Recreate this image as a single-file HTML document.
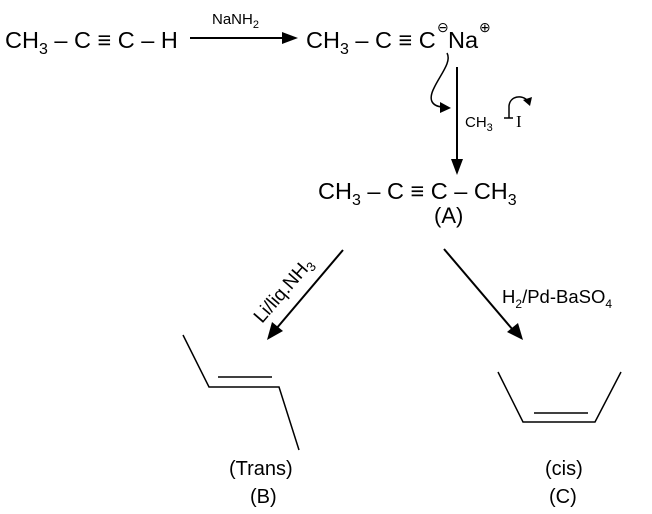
<!DOCTYPE html>
<html><head><meta charset="utf-8"><style>
html,body{margin:0;padding:0;background:#fff;}
svg{display:block;}
text{font-family:"Liberation Sans",Arial,sans-serif;fill:#000;}
</style></head><body>
<svg width="652" height="514" viewBox="0 0 652 514" xmlns="http://www.w3.org/2000/svg">
<!-- row 1 -->
<text x="5" y="48" font-size="23.5">CH<tspan font-size="16" dy="6">3</tspan><tspan dy="-6"> – C ≡ C – H</tspan></text>
<line x1="190" y1="38" x2="284" y2="38" stroke="#000" stroke-width="2"/>
<path d="M282,32 L298,38 L282,44 z"/>
<text x="212" y="24" font-size="15">NaNH<tspan font-size="11" dy="4">2</tspan></text>
<text x="306" y="48" font-size="23.5">CH<tspan font-size="16" dy="6">3</tspan><tspan dy="-6"> – C ≡ C</tspan></text>
<text x="437" y="32" font-size="14">⊖</text>
<text x="448" y="48" font-size="23.5">Na</text>
<text x="479" y="32" font-size="14">⊕</text>
<!-- curved arrow -->
<path d="M447,53 C452,62 440,75 434,88 C428,100 432,106 442,107" fill="none" stroke="#000" stroke-width="1.5"/>
<path d="M440,102 L451,108 L440,113 z"/>
<!-- vertical arrow -->
<line x1="457" y1="67" x2="457" y2="162" stroke="#000" stroke-width="2"/>
<path d="M451,159 L463,159 L457,175 z"/>
<text x="465" y="127" font-size="15">CH<tspan font-size="11" dy="4">3</tspan></text>
<line x1="504" y1="118" x2="513" y2="118" stroke="#000" stroke-width="1.5"/>
<path d="M509,118 L509,106 C510,96 522,94 528,101" fill="none" stroke="#000" stroke-width="1.5"/>
<path d="M523,100 L532,97 L530,106 z"/>
<text x="516" y="127" font-size="17" style="font-family:'Liberation Serif',serif">I</text>
<!-- A -->
<text x="318" y="199" font-size="23.5">CH<tspan font-size="16" dy="6">3</tspan><tspan dy="-6"> – C ≡ C – CH</tspan><tspan font-size="16" dy="6">3</tspan></text>
<text x="434" y="223" font-size="22">(A)</text>
<!-- left arrow -->
<line x1="343" y1="250" x2="276" y2="329" stroke="#000" stroke-width="2"/>
<path d="M267,340 L272,322 L283,331 z"/>
<text transform="translate(262,324) rotate(-49)" font-size="19">Li/liq.NH<tspan font-size="13" dy="4">3</tspan></text>
<!-- right arrow -->
<line x1="444" y1="249" x2="513" y2="330" stroke="#000" stroke-width="2"/>
<path d="M523,340 L507,332 L518,323 z"/>
<text x="502" y="303" font-size="18.5">H<tspan font-size="12" dy="5">2</tspan><tspan dy="-5">/Pd-BaSO</tspan><tspan font-size="12" dy="5">4</tspan></text>
<!-- trans -->
<polyline points="183,335 209,387 279,387 299,450" fill="none" stroke="#000" stroke-width="1.5"/>
<line x1="218" y1="377" x2="272" y2="377" stroke="#000" stroke-width="1.5"/>
<text x="229" y="475" font-size="20">(Trans)</text>
<text x="250" y="503" font-size="20">(B)</text>
<!-- cis -->
<polyline points="498,372 523,422 595,422 621,372" fill="none" stroke="#000" stroke-width="1.5"/>
<line x1="534" y1="413" x2="588" y2="413" stroke="#000" stroke-width="1.5"/>
<text x="545" y="475" font-size="20">(cis)</text>
<text x="549" y="503" font-size="20">(C)</text>
</svg>
</body></html>
